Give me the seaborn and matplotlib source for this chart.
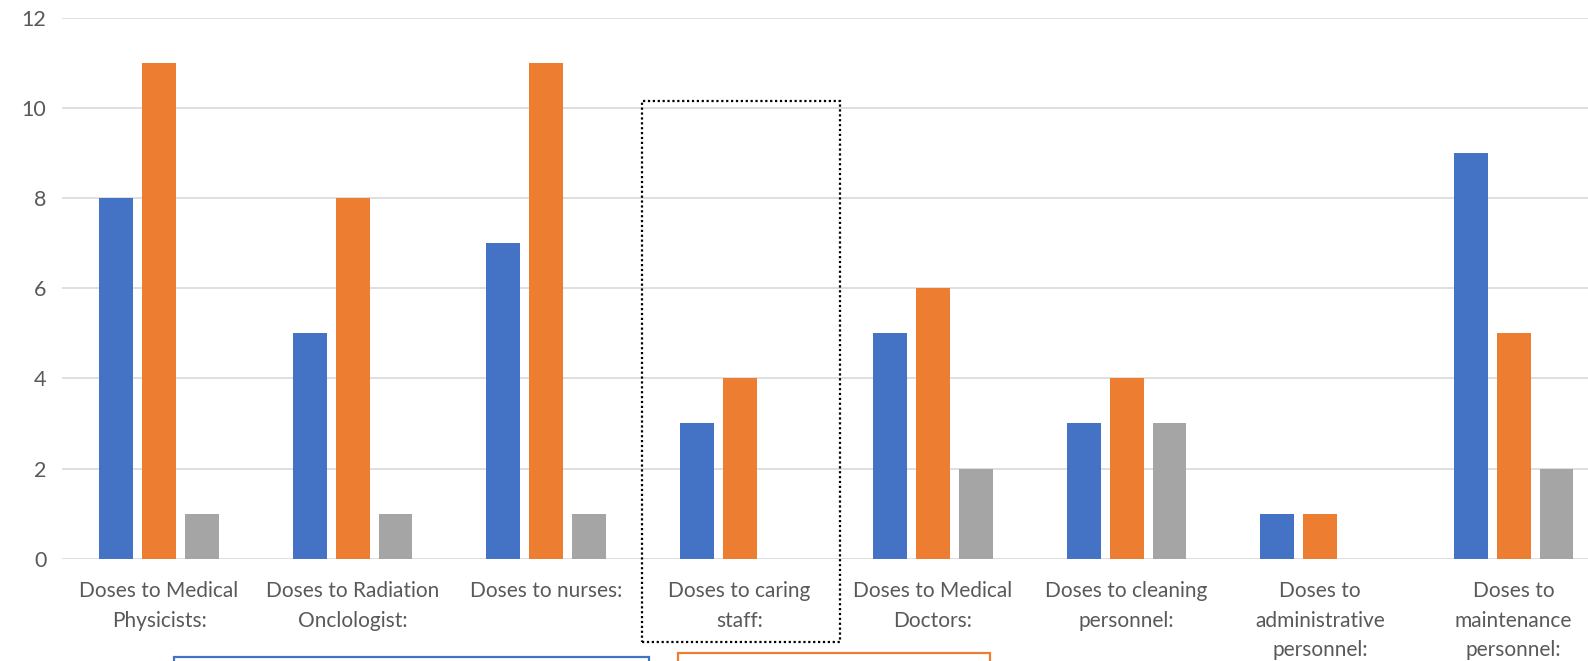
import numpy as np
import pandas as pd
import matplotlib
matplotlib.use("Agg")
import matplotlib.pyplot as plt
from matplotlib.patches import Rectangle
import seaborn as sns

# Staff groups and per-series counts
categories = [
    "Doses to Medical\nPhysicists:",
    "Doses to Radiation\nOnclologist:",
    "Doses to nurses:",
    "Doses to caring\nstaff:",
    "Doses to Medical\nDoctors:",
    "Doses to cleaning\npersonnel:",
    "Doses to\nadministrative\npersonnel:",
    "Doses to\nmaintenance\npersonnel:",
]
series_names = ["Series 1", "Series 2", "Series 3"]
series_1 = [8, 5, 7, 3, 5, 3, 1, 9]
series_2 = [11, 8, 11, 4, 6, 4, 1, 5]
series_3 = [1, 1, 1, np.nan, 2, 3, np.nan, 2]
y_ticks = [0, 2, 4, 6, 8, 10, 12]

colors = ["#4472C4", "#ED7D31", "#A5A5A5"]
text_grey = "#595959"
grid_grey = "#D9D9D9"

df = pd.DataFrame({
    "category": categories * 3,
    "series": np.repeat(series_names, len(categories)),
    "value": series_1 + series_2 + series_3,
})

sns.set_style("white")
plt.rcParams["font.family"] = ["Lato", "DejaVu Sans"]

W, H = 1588, 661
fig = plt.figure(figsize=(W / 100, H / 100), dpi=100)
# axes run past the right edge of the canvas
ax = fig.add_axes([62.3 / W, (H - 558.7) / H, 1548 / W, 541 / H])

sns.barplot(
    data=df, x="category", y="value", hue="series",
    order=categories, hue_order=series_names, palette=colors,
    saturation=1, width=0.666, gap=0.21, legend=False, ax=ax,
    errorbar=None, linewidth=0,
)

ax.set_xlim(-0.5, len(categories) - 0.5)
ax.set_ylim(0, 12)
ax.set_yticks(y_ticks)
ax.set_yticklabels([str(t) for t in y_ticks])
ax.set_xlabel("")
ax.set_ylabel("")
ax.yaxis.grid(True, color=grid_grey, linewidth=1.2)
ax.set_axisbelow(True)
for s in ax.spines.values():
    s.set_visible(False)
ax.tick_params(axis="y", length=0, pad=11.5, labelsize=15.5, labelcolor=text_grey)
ax.tick_params(axis="x", length=0, pad=16, labelsize=15, labelcolor=text_grey)
for lbl in ax.get_xticklabels():
    lbl.set_linespacing(1.6)
    lbl.set_horizontalalignment("center")

# dotted frame around the caring-staff group
fig.add_artist(Rectangle(
    (642 / W, (H - 642) / H), (839.5 - 642) / W, (642 - 100.7) / H,
    transform=fig.transFigure, fill=False, edgecolor="black",
    linestyle=(0, (1, 1.2)), linewidth=1.6, clip_on=False,
))

# outlined boxes along the bottom edge
fig.add_artist(Rectangle(
    (174 / W, -0.2), (649 - 174) / W, 0.2 + (H - 656.5) / H,
    transform=fig.transFigure, fill=False, edgecolor=colors[0],
    linewidth=1.6, clip_on=False,
))
fig.add_artist(Rectangle(
    (677.5 / W, -0.2), (989.5 - 677.5) / W, 0.2 + (H - 652.5) / H,
    transform=fig.transFigure, fill=False, edgecolor=colors[1],
    linewidth=1.6, clip_on=False,
))

fig.savefig("out.png", dpi=100)
